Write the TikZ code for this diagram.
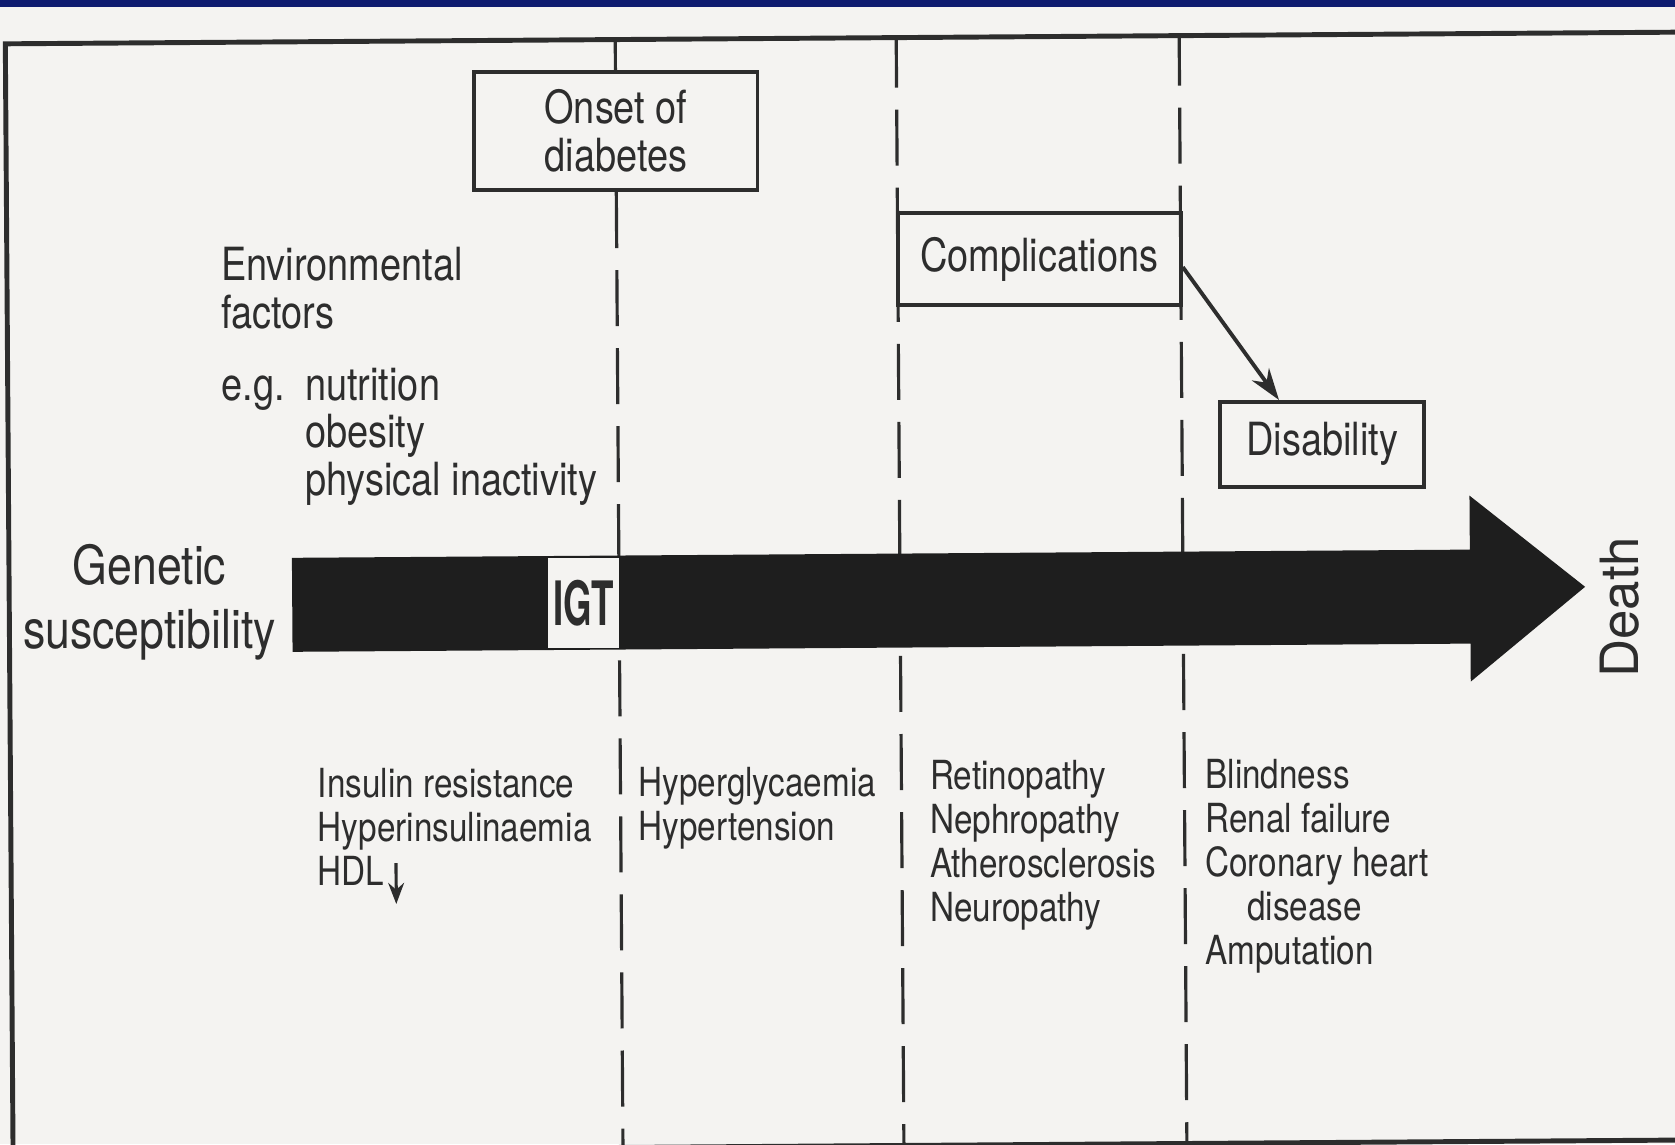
\documentclass[tikz,border=0pt]{standalone}
\usepackage{fontspec}
\setmainfont[FakeStretch=0.83]{TeX Gyre Heros}
\newfontfamily\igtfont[FakeStretch=0.6]{TeX Gyre Heros}
\newfontfamily\deathfont{TeX Gyre Heros}
\usetikzlibrary{arrows.meta}

\definecolor{slideblue}{RGB}{14,28,112}
\definecolor{paper}{RGB}{244,243,241}
\definecolor{ink}{RGB}{45,45,45}
\definecolor{barink}{RGB}{30,30,30}

\tikzset{
  frameline/.style={ink, line width=1.4pt},
  stageline/.style={ink, line width=0.9pt},
  stagedash/.style={stageline, dash pattern=on 0.56cm off 0.22cm},
  box/.style={draw=ink, line width=1.1pt, fill=paper, inner sep=0pt, align=center, text=ink,
    font=\fontsize{13}{13.6}\selectfont},
  txt/.style={text=ink, inner sep=0pt, align=left, anchor=base west,
    font=\fontsize{13}{13.6}\selectfont},
  lst/.style={txt, font=\fontsize{11.4}{12.5}\selectfont},
}

\begin{document}
\begin{tikzpicture}[x=0.01cm, y=-0.01cm]
	\useasboundingbox (0,0) rectangle (1675,1144);
	\fill[paper] (0,0) rectangle (1675,1144);
	\begin{scope}[rotate around={0.4:(838,572)}]
		\coordinate (tl) at (9,38);
		\coordinate (tr) at (1700,38);
		\coordinate (bl) at (9,1146);
		\coordinate (br) at (1700,1146);
		\draw[frameline] (tr) -- (tl) -- (bl) -- (br);
		
		\node[box, minimum width=2.83cm, minimum height=1.18cm] (onset) at (619,129.5) {Onset of\\diabetes};
		\node[box, minimum width=2.83cm, minimum height=0.92cm] (comp) at (1041.5,260.5) {Complications};
		\node[box, minimum width=2.04cm, minimum height=0.85cm] (dis) at (1323,447.5) {Disability};
		
		\coordinate (s1top) at (619,38);
		\coordinate (s1bot) at (619,1146);
		\coordinate (s2top) at (900,38);
		\coordinate (s2bot) at (900,1146);
		\coordinate (s3top) at (1183,38);
		\coordinate (s3bot) at (1183,1146);
		\draw[stageline] (s1top) -- (onset);
		\draw[stagedash] (onset) -- (s1bot);
		\draw[stagedash, dash phase=0.06cm] (s2top) -- (s2bot);
		\draw[stagedash, dash phase=0.06cm] (s3top) -- (s3bot);
		\draw[stageline, line width=1.1pt, -{Stealth[length=9pt,width=6pt]}] ([yshift=-0.08cm]comp.east) -- ([xshift=-0.43cm]dis.north);
		
		\fill[barink] (292,554) -- (1470,554) -- (1470,500) -- (1585,592) -- (1470,686) -- (1470,648) -- (292,648) -- cycle;
		\node[fill=paper, inner sep=0pt, minimum width=0.71cm, minimum height=0.9cm, text=ink,
			font=\igtfont\bfseries\fontsize{17.4}{17.4}\selectfont] (igt) at (583.5,601) {IGT};
		
		\node[txt] (env) at (222,324) {Environmental\\factors};
		\node[txt] (eg) at (222,396) {e.g.};
		\node[txt] (risk) at (305,492) {nutrition\\obesity\\physical inactivity};
		\node[txt, align=center, anchor=base, font=\fontsize{15.3}{18.3}\selectfont] (gen) at (149,644) {Genetic\\susceptibility};
		\node[text=ink, rotate=90, anchor=base, inner sep=0pt, font=\deathfont\fontsize{15}{15}\selectfont] (death) at (1638,613) {Death};
		
		\node[lst] (ins) at (315,882) {Insulin resistance\\Hyperinsulinaemia\\HDL};
		\node[lst] (hyp) at (636,839) {Hyperglycaemia\\Hypertension};
		\node[lst] (ret) at (927,922) {Retinopathy\\Nephropathy\\Atherosclerosis\\Neuropathy};
		\node[lst] (bli) at (1202,967) {Blindness\\Renal failure\\Coronary heart\\\hspace*{0.42cm}disease\\Amputation};
		\coordinate (hdlup) at (394,860);
		\coordinate (hdldown) at (394,901);
		\draw[stageline, -{Stealth[length=6pt,width=4.5pt]}] (hdlup) -- (hdldown);
	\end{scope}
	\fill[slideblue] (0,0) rectangle (1675,7);
\end{tikzpicture}
\end{document}
